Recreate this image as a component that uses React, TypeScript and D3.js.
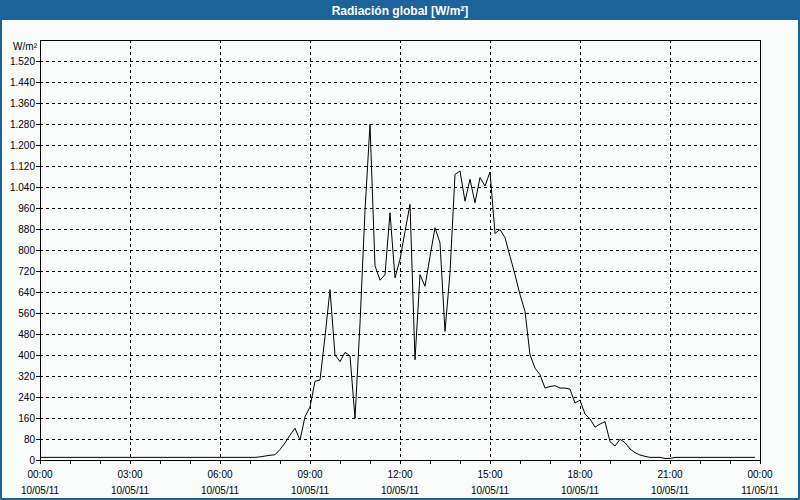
import { useEffect, useRef } from "react";
import * as d3 from "d3";

// 10-minute readings, 10/05/11 00:00 -> 23:50 (W/m²)
const radiation = [
  10, 10, 10, 10, 10, 10, 10, 10, 10, 10, 10, 10, // 00:00-01:50
  10, 10, 10, 10, 10, 10, 10, 10, 10, 10, 10, 10, // 02:00-03:50
  10, 10, 10, 10, 10, 10, 10, 10, 10, 10, 10, 10, // 04:00-05:50
  10, 10, 10, 10, 10, 10, 10, 10, 12, 15, 18, 20, // 06:00-07:50
  40, 65, 95, 121, 76, 165, 202, 300, 305, 470, 649, 400, // 08:00-09:50
  375, 410, 397, 159, 520, 950, 1279, 740, 685, 706, 942, 694, // 10:00-11:50
  764, 870, 974, 382, 706, 662, 775, 885, 827, 490, 714, 1088, // 12:00-13:50
  1101, 986, 1069, 980, 1076, 1044, 1097, 863, 878, 847, 776, 706, // 14:00-15:50
  630, 566, 401, 350, 325, 274, 280, 283, 274, 274, 270, 217, // 16:00-17:50
  228, 175, 157, 125, 137, 146, 70, 53, 79, 66, 42, 28, // 18:00-19:50
  19, 14, 10, 10, 10, 6, 6, 10, 10, 10, 10, 10, // 20:00-21:50
  10, 10, 10, 10, 10, 10, 10, 10, 10, 10, 10, 10, // 22:00-23:50
];

const yTicks = [
  0, 80, 160, 240, 320, 400, 480, 560, 640, 720, 800, 880, 960, 1040, 1120,
  1200, 1280, 1360, 1440, 1520,
];
const timeLabels = ["00:00", "03:00", "06:00", "09:00", "12:00", "15:00", "18:00", "21:00", "00:00"];
const dateLabels = ["10/05/11", "10/05/11", "10/05/11", "10/05/11", "10/05/11", "10/05/11", "10/05/11", "10/05/11", "11/05/11"];

const W = 800;
const H = 500;
const FONT = "'Liberation Sans', Arial, sans-serif";

export default function App() {
  const svgRef = useRef<SVGSVGElement | null>(null);

  useEffect(() => {
    if (!svgRef.current) return;
    const svg = d3.select(svgRef.current);
    svg.selectAll("*").remove();

    const left = 40, right = 760, top = 40, bottom = 460;
    const start = new Date(2011, 4, 10, 0, 0);
    const end = new Date(2011, 4, 11, 0, 0);

    const x = d3.scaleTime().domain([start, end]).range([left, right]);
    const y = d3.scaleLinear().domain([0, 1600]).range([bottom, top]);
    const fmt = d3
      .formatLocale({ decimal: ",", thousands: ".", grouping: [3], currency: ["", ""] })
      .format(",d");

    // window background + title bar
    svg.append("rect").attr("width", W).attr("height", H).attr("fill", "#fafcfc");
    svg
      .append("rect")
      .attr("x", 1).attr("y", 1).attr("width", W - 2).attr("height", H - 2)
      .attr("fill", "none").attr("stroke", "#1c6399").attr("stroke-width", 2);
    svg.append("rect").attr("width", W).attr("height", 20).attr("fill", "#1c6399");
    svg
      .append("text")
      .attr("x", W / 2).attr("y", 14.5)
      .attr("text-anchor", "middle")
      .attr("fill", "white")
      .attr("font-family", FONT).attr("font-size", 12).attr("font-weight", "bold")
      .text("Radiación global [W/m²]");

    // grid
    const grid = svg.append("g").attr("stroke", "#000").attr("stroke-dasharray", "3,3").attr("shape-rendering", "crispEdges");
    yTicks.filter((v) => v > 0).forEach((v) => {
      grid.append("line").attr("x1", left).attr("x2", right).attr("y1", Math.round(y(v)) + 0.5).attr("y2", Math.round(y(v)) + 0.5);
    });
    timeLabels.slice(1, -1).forEach((_, i) => {
      const xx = Math.round(x(d3.timeHour.offset(start, (i + 1) * 3))) + 0.5;
      grid.append("line").attr("x1", xx).attr("x2", xx).attr("y1", top).attr("y2", bottom);
    });

    // y axis ticks + labels
    const yAxis = svg.append("g").attr("font-family", FONT).attr("font-size", 10).attr("fill", "#000");
    yTicks.forEach((v) => {
      const yy = Math.round(y(v)) + 0.5;
      yAxis.append("line").attr("x1", 36).attr("x2", left).attr("y1", yy).attr("y2", yy).attr("stroke", "#000").attr("shape-rendering", "crispEdges");
      yAxis.append("text").attr("x", 35).attr("y", yy + 3.5).attr("text-anchor", "end").text(fmt(v));
    });
    yAxis.append("text").attr("x", 37).attr("y", 50).attr("text-anchor", "end").text("W/m²");

    // x axis ticks + labels
    const xAxis = svg.append("g").attr("font-family", FONT).attr("font-size", 10).attr("fill", "#000");
    x.ticks(d3.timeHour.every(1)).forEach((t) => {
      const xx = Math.round(x(t)) + 0.5;
      xAxis.append("line").attr("x1", xx).attr("x2", xx).attr("y1", bottom).attr("y2", bottom + 4).attr("stroke", "#000").attr("shape-rendering", "crispEdges");
    });
    timeLabels.forEach((lab, i) => {
      const xx = x(d3.timeHour.offset(start, i * 3));
      xAxis.append("text").attr("x", xx).attr("y", 478).attr("text-anchor", "middle").text(lab);
      xAxis.append("text").attr("x", xx).attr("y", 494).attr("text-anchor", "middle").text(dateLabels[i]);
    });

    // frame
    svg
      .append("rect")
      .attr("x", left + 0.5).attr("y", top + 0.5)
      .attr("width", right - left).attr("height", bottom - top)
      .attr("fill", "none").attr("stroke", "#000").attr("shape-rendering", "crispEdges");

    // data line
    const line = d3
      .line<number>()
      .x((_, i) => x(d3.timeMinute.offset(start, i * 10)))
      .y((d) => y(d));
    svg
      .append("path")
      .datum(radiation)
      .attr("d", line)
      .attr("fill", "none")
      .attr("stroke", "#000")
      .attr("stroke-width", 1);
  }, []);

  return (
    <svg
      ref={svgRef}
      width={W}
      height={H}
      style={{ position: "fixed", left: 0, top: 0 }}
    />
  );
}
